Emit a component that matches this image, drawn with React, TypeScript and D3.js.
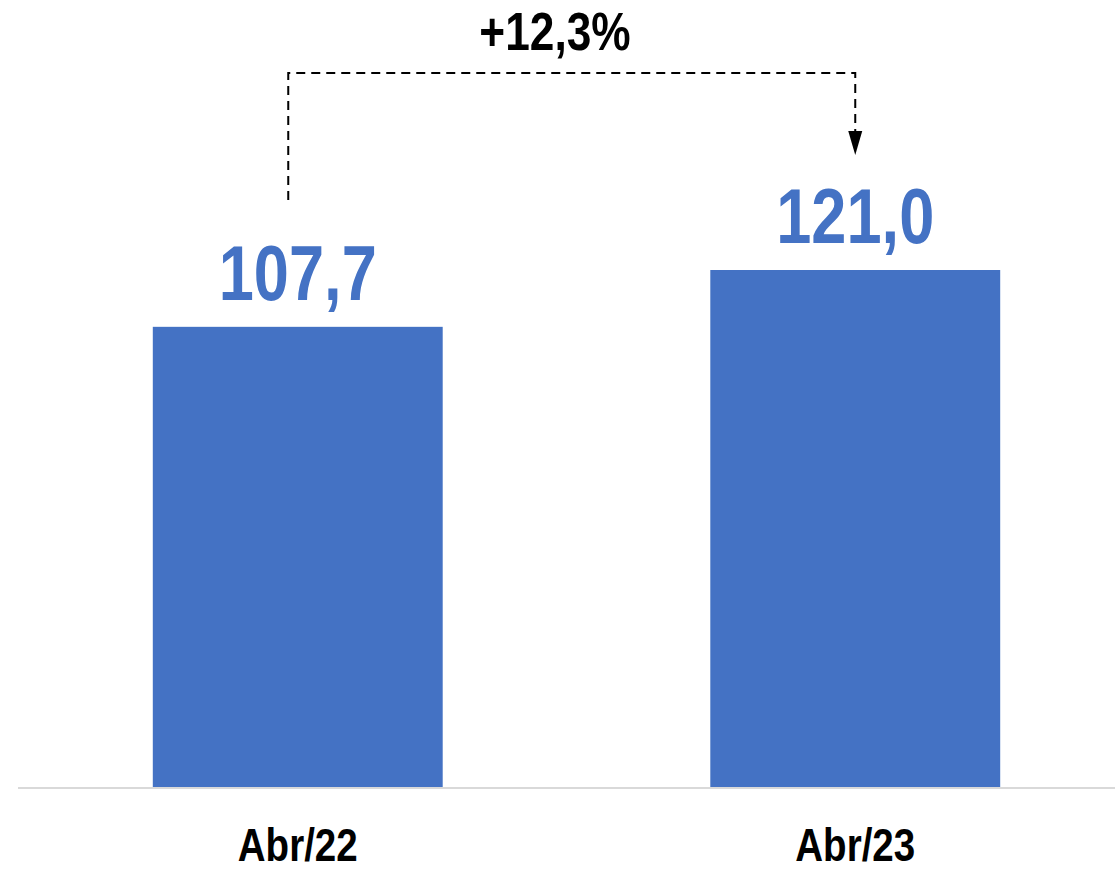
import React from "react";
import * as d3 from "d3";

const categories = ["Abr/22", "Abr/23"];
const values = [107.7, 121.0];
const valueLabels = ["107,7", "121,0"];
const changeLabel = "+12,3%";

const W = 1115;
const H = 869;
const FONT = "'Liberation Sans', Arial, sans-serif";
const BLUE = "#4472C4";
const NARROW = 0.82;

function NText(props: { x: number; y: number; size: number; fill: string; children: React.ReactNode }) {
  return (
    <text
      transform={`translate(${props.x},${props.y}) scale(${NARROW},1)`}
      textAnchor="middle"
      fontFamily={FONT}
      fontWeight="bold"
      fontSize={props.size}
      fill={props.fill}
    >
      {props.children}
    </text>
  );
}

export default function App() {
  const x = d3.scaleBand<string>().domain(categories).range([19, 1134]).paddingInner(0.48).paddingOuter(0.24);
  const y = d3.scaleLinear().domain([0, 121]).range([787, 270]);
  const bw = x.bandwidth();
  const c0 = (x(categories[0]) as number) + bw / 2;
  const c1 = (x(categories[1]) as number) + bw / 2;
  const lineY = 73;
  const leftX = c0 - 9.5;
  const arrowTip = 155;
  return (
    <svg width={W} height={H} style={{ position: "absolute", left: 0, top: 0, background: "#fff" }}>
      <line x1={18} x2={W} y1={788} y2={788} stroke="#d9d9d9" strokeWidth={2} />
      {categories.map((c, i) => (
        <g key={c}>
          <rect x={x(c)} y={y(values[i])} width={bw} height={y(0) - y(values[i])} fill={BLUE} />
          <NText x={(x(c) as number) + bw / 2} y={y(values[i]) - 27} size={77} fill={BLUE}>
            {valueLabels[i]}
          </NText>
          <NText x={(x(c) as number) + bw / 2} y={861} size={47} fill="#000">
            {c}
          </NText>
        </g>
      ))}
      <path d={`M${leftX},200 L${leftX},${lineY} L${c1},${lineY} L${c1},${arrowTip - 22}`} fill="none" stroke="#000" strokeWidth={2} strokeDasharray="9,6" />
      <path d={`M${c1 - 7},${arrowTip - 24} L${c1 + 7},${arrowTip - 24} L${c1},${arrowTip} Z`} fill="#000" />
      <NText x={555} y={50} size={54} fill="#000">
        {changeLabel}
      </NText>
    </svg>
  );
}
